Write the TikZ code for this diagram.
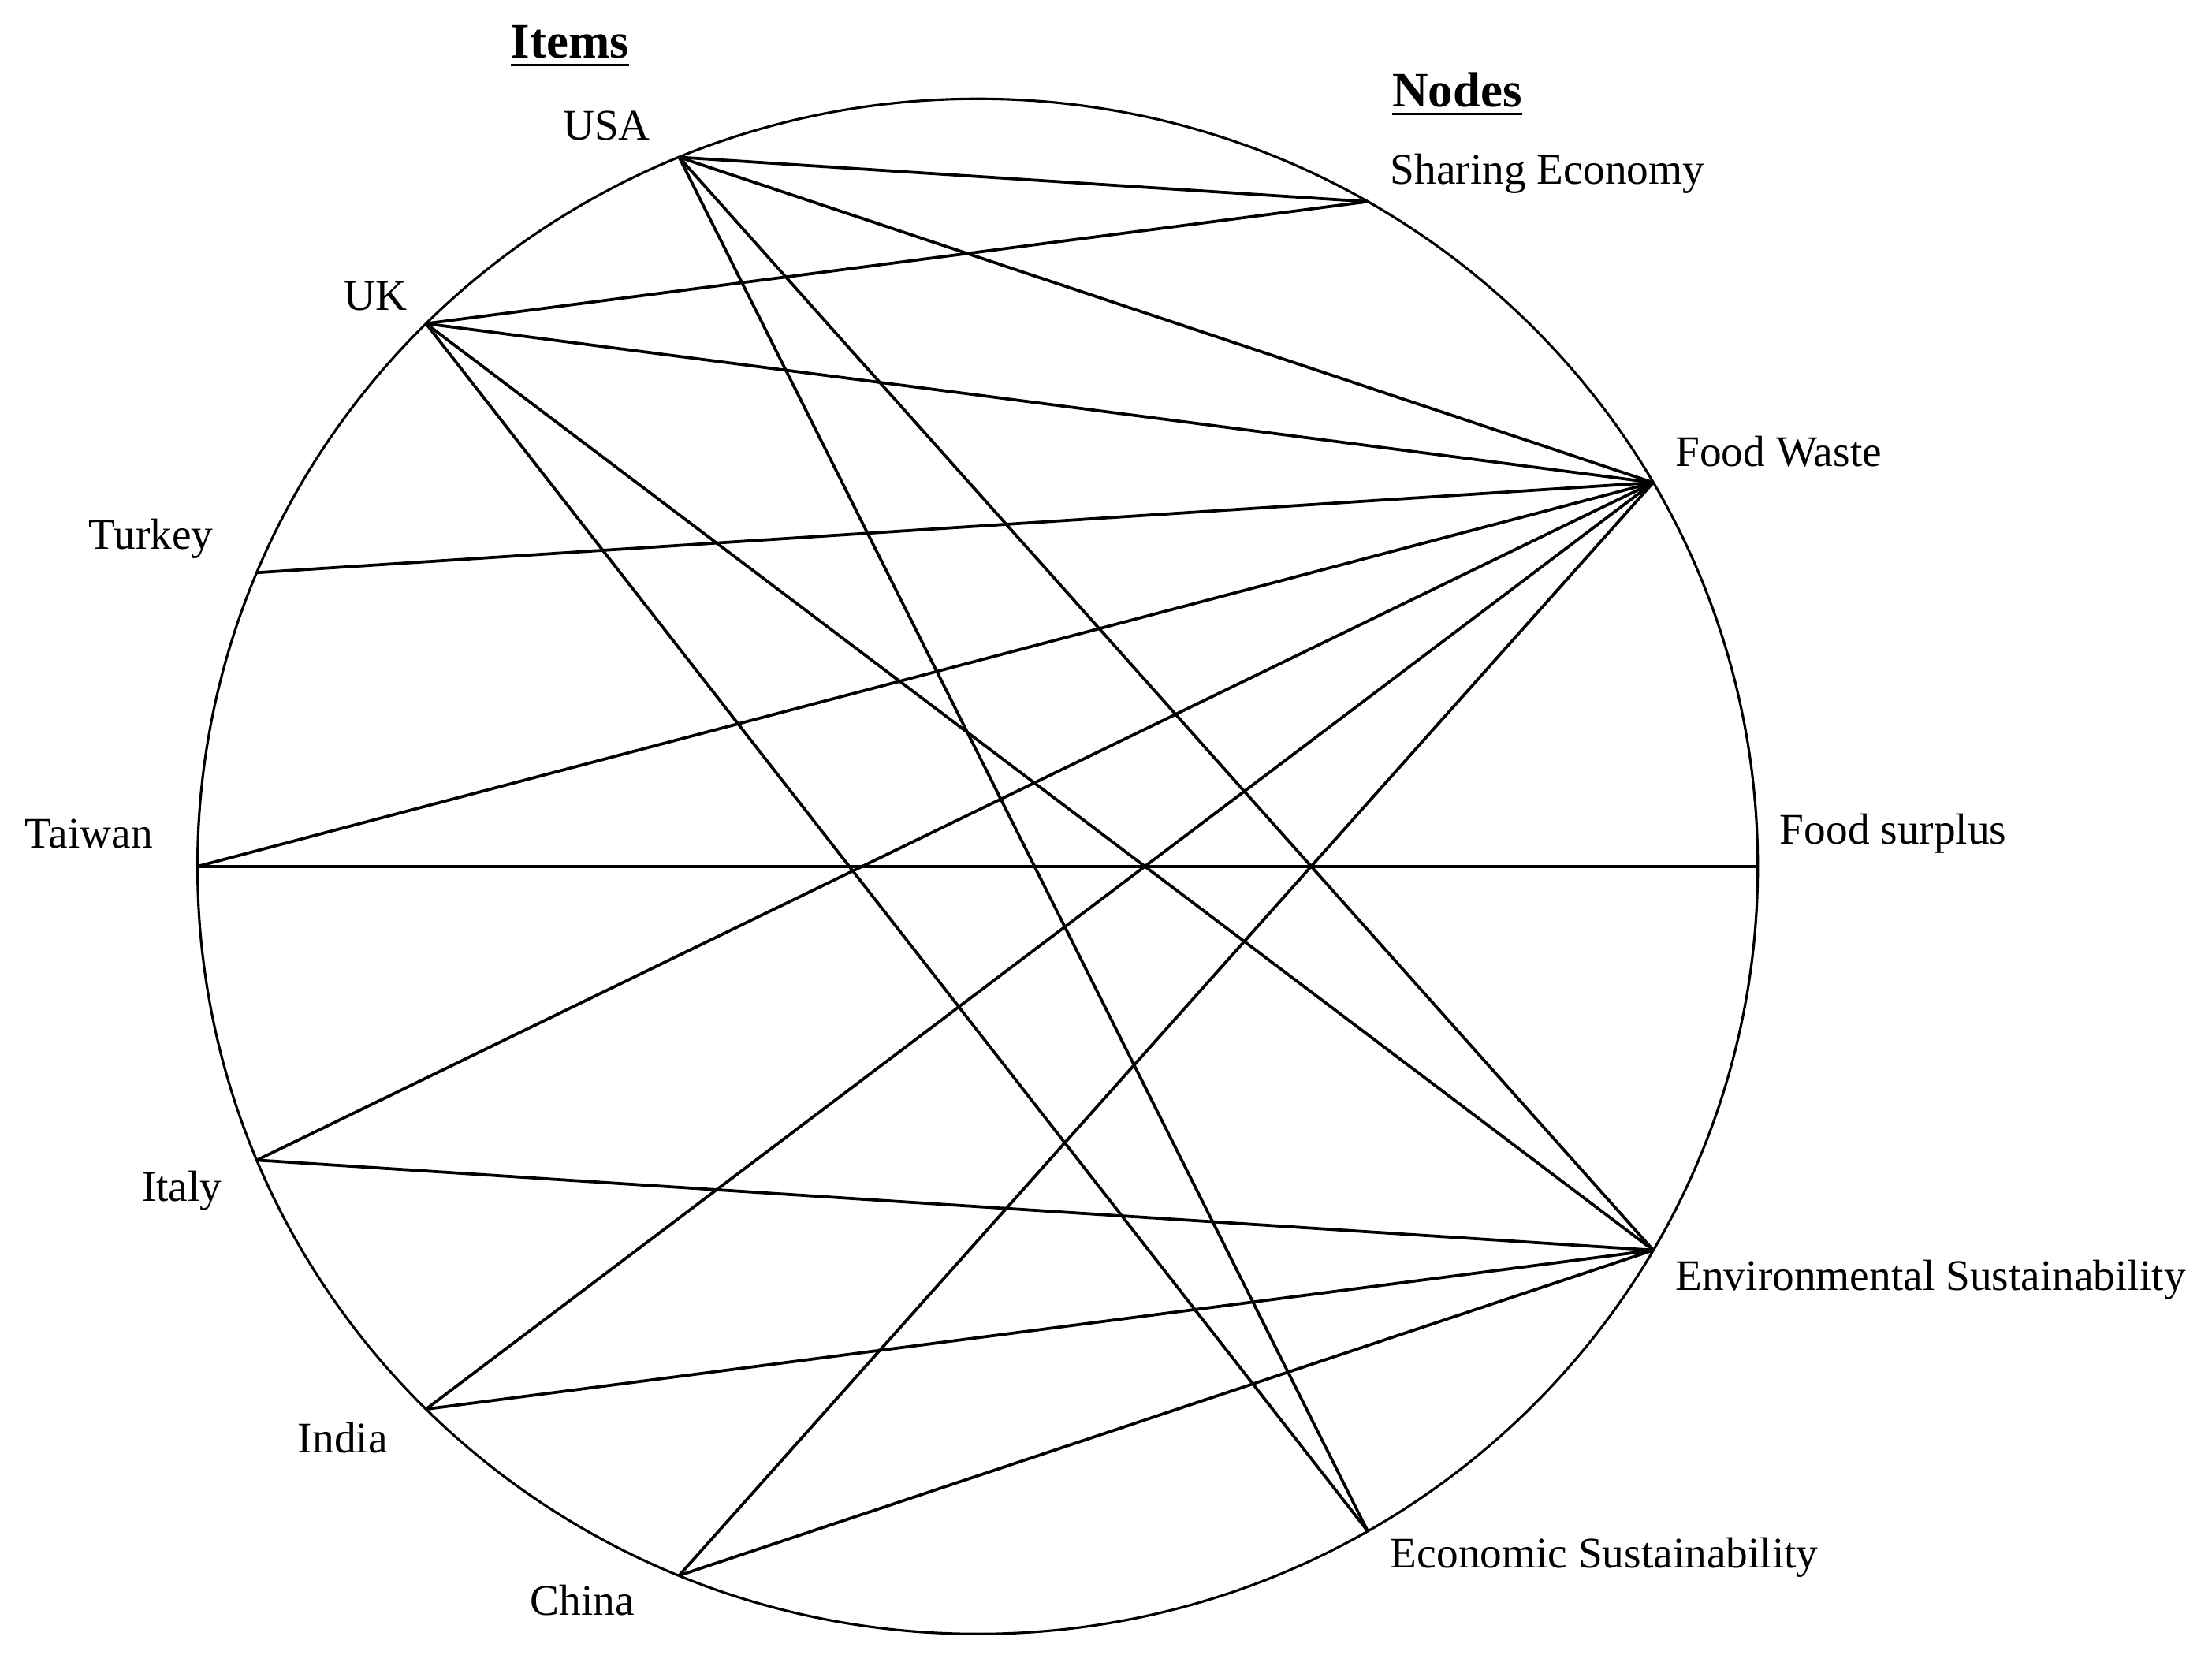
\documentclass[tikz,border=0pt]{standalone}
\usepackage{fontspec}
\setmainfont{Liberation Serif}
\tikzset{
  label text/.style={inner sep=0pt,font=\fontsize{8.8}{10}\selectfont},
  head text/.style={inner sep=0pt,font=\fontsize{10}{12}\selectfont\bfseries},
  link/.style={line width=0.6pt}
}
\begin{document}
\begin{tikzpicture}
  \useasboundingbox[fill=white] (-6.93,-5.69) rectangle (8.75,6.14);

  % Ring
  \draw[line width=0.5pt] (0,0) ellipse (5.53 and 5.44);

  % Items on the left
  \coordinate (usa) at ({5.53*cos(112.5)},{5.44*sin(112.5)});
  \coordinate (uk) at ({5.53*cos(135)},{5.44*sin(135)});
  \coordinate (turkey) at ({5.53*cos(157.5)},{5.44*sin(157.5)});
  \coordinate (taiwan) at ({5.53*cos(180)},{5.44*sin(180)});
  \coordinate (italy) at ({5.53*cos(202.5)},{5.44*sin(202.5)});
  \coordinate (india) at ({5.53*cos(225)},{5.44*sin(225)});
  \coordinate (china) at ({5.53*cos(247.5)},{5.44*sin(247.5)});

  % Nodes on the right
  \coordinate (sharing) at ({5.53*cos(60)},{5.44*sin(60)});
  \coordinate (waste) at ({5.53*cos(30)},{5.44*sin(30)});
  \coordinate (surplus) at ({5.53*cos(0)},{5.44*sin(0)});
  \coordinate (envsus) at ({5.53*cos(-30)},{5.44*sin(-30)});
  \coordinate (ecosus) at ({5.53*cos(-60)},{5.44*sin(-60)});

  % Links
  \draw[link] (usa) -- (sharing);
  \draw[link] (usa) -- (waste);
  \draw[link] (usa) -- (envsus);
  \draw[link] (usa) -- (ecosus);
  \draw[link] (uk) -- (sharing);
  \draw[link] (uk) -- (waste);
  \draw[link] (uk) -- (envsus);
  \draw[link] (uk) -- (ecosus);
  \draw[link] (turkey) -- (waste);
  \draw[link] (taiwan) -- (waste);
  \draw[link] (taiwan) -- (surplus);
  \draw[link] (italy) -- (waste);
  \draw[link] (italy) -- (envsus);
  \draw[link] (india) -- (waste);
  \draw[link] (india) -- (envsus);
  \draw[link] (china) -- (waste);
  \draw[link] (china) -- (envsus);

  % Headings
  \node[head text] (itemshead) at (-2.89,5.81) {\underline{Items}};
  \node[head text] (nodeshead) at (3.40,5.47) {\underline{Nodes}};

  % Labels
  \node[label text] (usalabel) at (-2.63,5.25) {USA};
  \node[label text] (uklabel) at (-4.27,4.04) {UK};
  \node[label text] (turkeylabel) at (-5.86,2.32) {Turkey};
  \node[label text] (taiwanlabel) at (-6.30,0.23) {Taiwan};
  \node[label text] (italylabel) at (-5.64,-2.30) {Italy};
  \node[label text] (indialabel) at (-4.50,-4.05) {India};
  \node[label text] (chinalabel) at (-2.80,-5.20) {China};
  \node[label text,anchor=west] (sharinglabel) at (2.92,4.91) {Sharing Economy};
  \node[label text,anchor=west] (wastelabel) at (4.94,2.94) {Food Waste};
  \node[label text,anchor=west] (surpluslabel) at (5.68,0.23) {Food surplus};
  \node[label text,anchor=west] (envsuslabel) at (4.94,-2.93) {Environmental Sustainability};
  \node[label text,anchor=west] (ecosuslabel) at (2.92,-4.90) {Economic Sustainability};
\end{tikzpicture}
\end{document}
